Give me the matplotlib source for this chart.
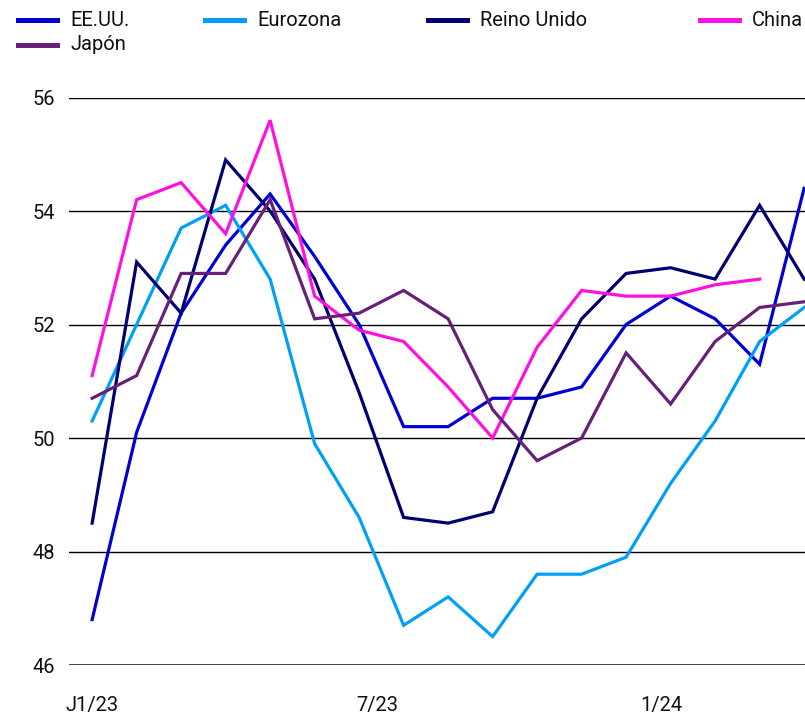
import matplotlib
matplotlib.use('Agg')
import matplotlib.pyplot as plt
from matplotlib.lines import Line2D

plt.rcParams['font.family'] = ['Roboto', 'DejaVu Sans']

# Monthly readings, Jan 2023 .. May 2024
months = list(range(17))
us = [46.8, 50.1, 52.2, 53.4, 54.3, 53.2, 52.0, 50.2, 50.2, 50.7, 50.7, 50.9,
      52.0, 52.5, 52.1, 51.3, 54.4]
euro = [50.3, 52.0, 53.7, 54.1, 52.8, 49.9, 48.6, 46.7, 47.2, 46.5, 47.6, 47.6,
        47.9, 49.2, 50.3, 51.7, 52.3]
uk = [48.5, 53.1, 52.2, 54.9, 54.0, 52.8, 50.8, 48.6, 48.5, 48.7, 50.7, 52.1,
      52.9, 53.0, 52.8, 54.1, 52.8]
china = [51.1, 54.2, 54.5, 53.6, 55.6, 52.5, 51.9, 51.7, 50.9, 50.0, 51.6, 52.6,
         52.5, 52.5, 52.7, 52.8]
japan = [50.7, 51.1, 52.9, 52.9, 54.2, 52.1, 52.2, 52.6, 52.1, 50.5, 49.6, 50.0,
         51.5, 50.6, 51.7, 52.3, 52.4]

names = ['EE.UU.', 'Eurozona', 'Reino Unido', 'China', 'Japón']
colors = ['#0000D4', '#00A0F6', '#000070', '#FF10E0', '#66207A']
series = [us, euro, uk, china, japan]

tick_pos = [0, 6.4, 12.8]
tick_labels = ['J1/23', '7/23', '1/24']
y_ticks = [46, 48, 50, 52, 54, 56]

fig = plt.figure(figsize=(8.05, 7.15), dpi=100)
ax = fig.add_axes([69 / 805, 1 - 665 / 715, 736 / 805, (665 - 97.5) / 715])

# grid lines
for v in y_ticks:
    if v == 46:
        ax.axhline(v, color='#333333', lw=2.0, zorder=1)
    else:
        ax.axhline(v, color='black', lw=1.0, zorder=1)

for vals, c in zip(series, colors):
    ax.plot(months[:len(vals)], vals, color=c, lw=2.3, zorder=3,
            solid_joinstyle='miter', clip_on=True)

ax.set_xlim(-0.52, 16.02)
ax.set_ylim(46, 56)
ax.set_yticks(y_ticks)
ax.set_yticklabels([str(v) for v in y_ticks], fontsize=14.5, color='#111111')
ax.set_xticks(tick_pos)
ax.set_xticklabels(tick_labels, fontsize=14.5, color='#111111')
ax.tick_params(axis='y', length=0, pad=10)
ax.tick_params(axis='x', length=0, pad=22)
for s in ax.spines.values():
    s.set_visible(False)

# legend laid out by hand
leg_x = [18, 205, 428, 700, 18]
leg_y = [20, 20, 20, 20, 45]
for name, c, lx, ly in zip(names, colors, leg_x, leg_y):
    fy = 1 - ly / 715
    fig.add_artist(Line2D([lx / 805, (lx + 39) / 805], [fy, fy], color=c, lw=3.6,
                          transform=fig.transFigure))
    fig.text((lx + 52) / 805, fy, name, fontsize=14.5, color='#111111',
             va='center', ha='left')

fig.savefig('out.png', dpi=100)
